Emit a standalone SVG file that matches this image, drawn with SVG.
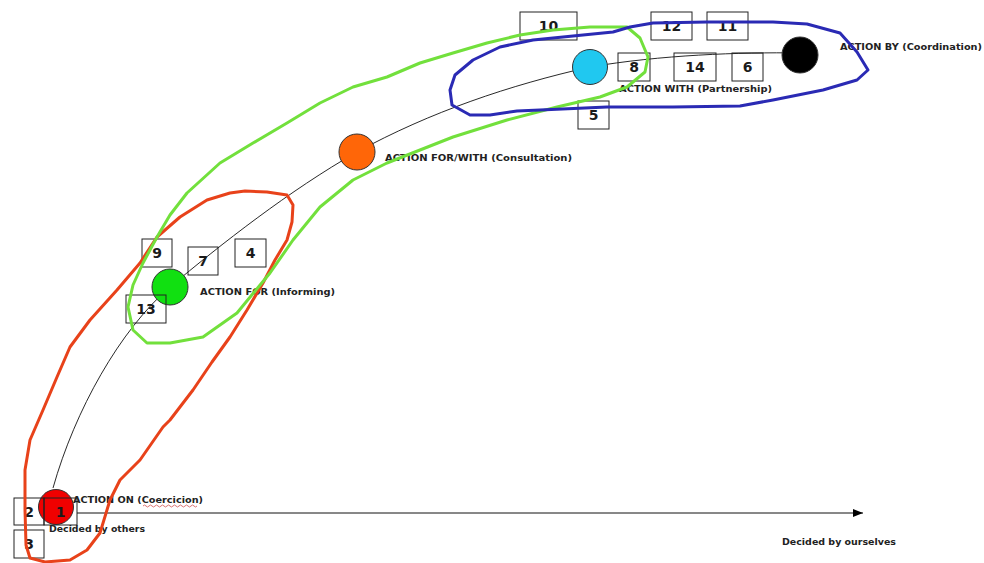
<svg xmlns="http://www.w3.org/2000/svg" width="984" height="563" viewBox="0 0 984 563">
<style>
.lbl{font-family:"DejaVu Sans","Verdana",sans-serif;font-size:9px;font-weight:bold;fill:#222}
.num{font-family:"DejaVu Sans","Verdana",sans-serif;font-size:14px;font-weight:bold;fill:#1a1a1a;text-anchor:middle}
.box{fill:none;stroke:#222;stroke-width:1}
.dot{stroke:#333;stroke-width:1}
.loop{fill:none;stroke-width:3;stroke-linejoin:round;stroke-linecap:round}
</style>
<defs>
<marker id="arr" markerWidth="10" markerHeight="8" refX="10" refY="4" orient="auto" markerUnits="userSpaceOnUse">
<path d="M0,0 L10,4 L0,8 z" fill="#000"/>
</marker>
</defs>
<rect width="984" height="563" fill="#fff"/>
<g id="connectors">
<path d="M53,488 C75,410 120,330 170,287 C220,245 290,190 357,152 C430,112 510,85 590,67 C660,55 740,52 800,53" fill="none" stroke="#111" stroke-width="0.9"/>
<line x1="77" y1="513" x2="863" y2="513" stroke="#111" stroke-width="1" marker-end="url(#arr)"/>
</g>
<g id="node-on">
<circle cx="56" cy="507" r="17.5" fill="#f00000" class="dot"/>
<text class="lbl" x="73" y="503" textLength="130" lengthAdjust="spacingAndGlyphs">ACTION ON (Coercicion)</text>
<path d="M143,506 q1.5,-2 3,0 t3,0 t3,0 t3,0 t3,0 t3,0 t3,0 t3,0 t3,0 t3,0 t3,0 t3,0 t3,0 t3,0 t3,0 t3,0 t3,0 t3,0" fill="none" stroke="#d05050" stroke-width="0.8"/>
</g>
<g id="node-for">
<circle cx="170" cy="287" r="18" fill="#11e011" class="dot"/>
<text class="lbl" x="200" y="295" textLength="135" lengthAdjust="spacingAndGlyphs">ACTION FOR (Informing)</text>
</g>
<g id="node-forwith">
<circle cx="357" cy="152" r="18" fill="#ff6608" class="dot"/>
<text class="lbl" x="385" y="161" textLength="187" lengthAdjust="spacingAndGlyphs">ACTION FOR/WITH (Consultation)</text>
</g>
<g id="node-with">
<circle cx="590" cy="67" r="17.5" fill="#20c8f0" class="dot"/>
<text class="lbl" x="619" y="92" textLength="153" lengthAdjust="spacingAndGlyphs">ACTION WITH (Partnership)</text>
</g>
<g id="node-by">
<circle cx="800" cy="55" r="18" fill="#000" class="dot"/>
<text class="lbl" x="840" y="50" textLength="142" lengthAdjust="spacingAndGlyphs">ACTION BY (Coordination)</text>
</g>
<g id="axis-labels">
<text class="lbl" x="49" y="532" textLength="96" lengthAdjust="spacingAndGlyphs">Decided by others</text>
<text class="lbl" x="782" y="545" textLength="114" lengthAdjust="spacingAndGlyphs">Decided by ourselves</text>
</g>
<g id="box-1"><rect class="box" x="44" y="498" width="33" height="27"/><text class="num" x="60.5" y="517">1</text></g>
<g id="box-2"><rect class="box" x="14" y="498" width="30" height="27"/><text class="num" x="29" y="517">2</text></g>
<g id="box-3"><rect class="box" x="14" y="530" width="30" height="28"/><text class="num" x="29" y="549">3</text></g>
<g id="box-4"><rect class="box" x="235" y="239" width="31" height="28"/><text class="num" x="250.5" y="258">4</text></g>
<g id="box-5"><rect class="box" x="578" y="101" width="31" height="28"/><text class="num" x="593.5" y="120">5</text></g>
<g id="box-6"><rect class="box" x="732" y="53" width="31" height="28"/><text class="num" x="747.5" y="72">6</text></g>
<g id="box-7"><rect class="box" x="188" y="247" width="30" height="28"/><text class="num" x="203" y="266">7</text></g>
<g id="box-8"><rect class="box" x="618" y="53" width="32" height="28"/><text class="num" x="634" y="72">8</text></g>
<g id="box-9"><rect class="box" x="142" y="239" width="30" height="28"/><text class="num" x="157" y="258">9</text></g>
<g id="box-10"><rect class="box" x="520" y="12" width="57" height="28"/><text class="num" x="548.5" y="31">10</text></g>
<g id="box-11"><rect class="box" x="707" y="12" width="41" height="28"/><text class="num" x="727.5" y="31">11</text></g>
<g id="box-12"><rect class="box" x="651" y="12" width="41" height="28"/><text class="num" x="671.5" y="31">12</text></g>
<g id="box-13"><rect class="box" x="126" y="295" width="40" height="28"/><text class="num" x="146" y="314">13</text></g>
<g id="box-14"><rect class="box" x="674" y="53" width="42" height="28"/><text class="num" x="695" y="72">14</text></g>
<g id="loops">
<polyline class="loop" stroke="#e8421a" points="230,193 245,191 267,192 287,195 293,205 292,222 287,240 275,260 263,283 247,310 230,337 212,362 193,390 170,420 163,427 140,460 120,480 110,500 100,533 87,550 70,560 45,562 30,558 26,545 25,510 25,470 30,440 43,410 57,377 70,347 90,320 117,290 140,263 157,237 180,217 207,200 230,193"/>
<polyline class="loop" stroke="#72e03c" points="128,307 133,285 143,263 157,237 170,215 187,193 220,163 253,143 287,123 320,103 353,87 387,77 420,63 453,53 487,43 520,35 553,30 590,27 627,27 640,38 648,57 645,72 627,87 600,97 557,107 507,120 453,137 420,150 387,163 353,180 320,207 293,240 270,273 237,313 203,337 170,343 147,343 133,330 128,307"/>
<polyline class="loop" stroke="#2a2ab4" points="450,90 455,75 473,60 500,47 533,40 573,36 613,32 630,27 653,23 707,22 773,22 807,24 840,33 857,52 868,70 857,80 823,90 773,100 740,106 673,107 607,107 540,110 517,111 490,115 470,115 452,105 450,90"/>
</g>
</svg>
